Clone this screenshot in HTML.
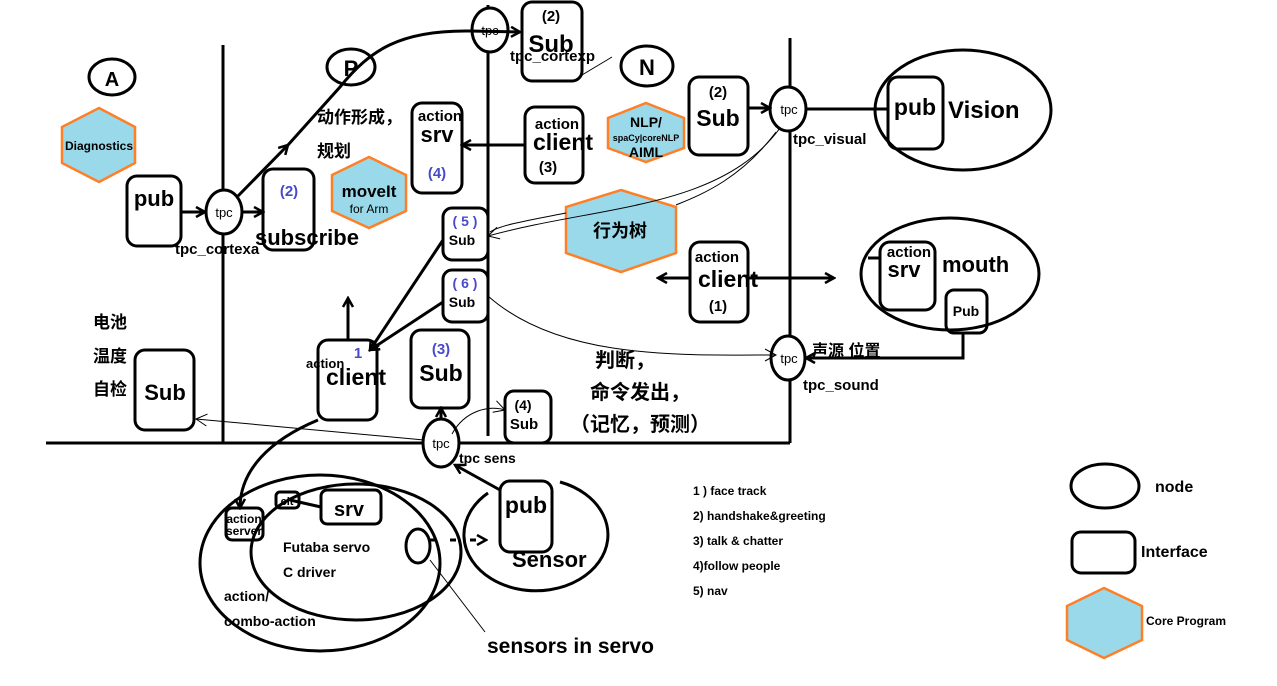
<!DOCTYPE html>
<html><head><meta charset="utf-8"><style>
html,body{margin:0;padding:0;background:#fff;}
svg{display:block}
text{font-family:"Liberation Sans","Noto Sans CJK SC",sans-serif;font-weight:bold;fill:#000}
.t{font-weight:normal}
.b{fill:#4a4acc}
</style></head><body>
<svg width="1277" height="686" viewBox="0 0 1277 686" xmlns="http://www.w3.org/2000/svg">
<defs>
<marker id="ah" markerWidth="12" markerHeight="12" refX="10" refY="6" orient="auto" markerUnits="userSpaceOnUse"><path d="M1,1 L10,6 L1,11" fill="none" stroke="#000" stroke-width="2.5"/></marker>
<marker id="at" markerWidth="14" markerHeight="14" refX="12" refY="7" orient="auto" markerUnits="userSpaceOnUse"><path d="M1,1 L12,7 L1,13" fill="none" stroke="#000" stroke-width="1"/></marker>
</defs>
<g fill="none" stroke="#000" stroke-width="3">
<!-- main lines -->
<line x1="46" y1="443" x2="790" y2="443"/>
<line x1="223" y1="45" x2="223" y2="443"/>
<line x1="488" y1="5" x2="488" y2="436"/>
<line x1="790" y1="38" x2="790" y2="443"/>
<!-- letter circles -->
<ellipse cx="112" cy="77" rx="23" ry="18"/>
<ellipse cx="351" cy="67" rx="24" ry="18"/>
<ellipse cx="647" cy="66" rx="26" ry="20"/>
<!-- boxes -->
<rect x="127" y="176" width="54" height="70" rx="10"/>
<rect x="263" y="169" width="51" height="81" rx="10"/>
<rect x="412" y="103" width="50" height="90" rx="10"/>
<rect x="525" y="107" width="58" height="76" rx="10"/>
<rect x="522" y="2" width="60" height="79" rx="10"/>
<rect x="689" y="77" width="59" height="78" rx="10"/>
<rect x="888" y="77" width="55" height="72" rx="10"/>
<rect x="443" y="208" width="45" height="52" rx="9"/>
<rect x="443" y="270" width="45" height="52" rx="9"/>
<rect x="690" y="242" width="58" height="80" rx="10"/>
<rect x="880" y="242" width="55" height="68" rx="10"/>
<rect x="946" y="290" width="41" height="43" rx="8"/>
<rect x="318" y="340" width="59" height="80" rx="10"/>
<rect x="411" y="330" width="58" height="78" rx="10"/>
<rect x="505" y="391" width="46" height="52" rx="9"/>
<rect x="135" y="350" width="59" height="80" rx="10"/>
<rect x="276" y="492" width="23" height="16" rx="4"/>
<rect x="321" y="490" width="60" height="34" rx="6"/>
<rect x="226" y="508" width="37" height="32" rx="6"/>
<rect x="500" y="481" width="52" height="71" rx="10"/>
<rect x="1072" y="532" width="63" height="41" rx="9"/>
<!-- ellipses -->
<ellipse cx="963" cy="110" rx="88" ry="60"/>
<ellipse cx="950" cy="274" rx="89" ry="56"/>
<ellipse cx="320" cy="563" rx="120" ry="88"/>
<ellipse cx="356" cy="552" rx="105" ry="68"/>
<ellipse cx="418" cy="546" rx="12" ry="17"/>
<path d="M488,493 A72,56 0 1,0 560,482" />
<ellipse cx="1105" cy="486" rx="34" ry="22"/>
<!-- tpc nodes -->
<ellipse cx="224" cy="212" rx="18" ry="22" fill="#fff"/>
<ellipse cx="490" cy="30" rx="18" ry="22" fill="#fff"/>
<ellipse cx="788" cy="109" rx="18" ry="22" fill="#fff"/>
<ellipse cx="788" cy="358" rx="17" ry="22" fill="#fff"/>
<ellipse cx="441" cy="443" rx="18" ry="24" fill="#fff"/>
</g>
<!-- hexagons -->
<g fill="#99d9ea" stroke="#ff7f27" stroke-width="2.5">
<polygon points="99,108 135,127 135,163 99,182 62,163 62,127"/>
<polygon points="369,157 406,175 406,211 369,228 332,211 332,175"/>
<polygon points="646,103 684,118 684,148 646,162 608,148 608,118"/>
<polygon points="621,190 676,207 676,253 621,272 566,253 566,207"/>
<polygon points="1104,588 1142,606 1142,640 1104,658 1067,640 1067,606"/>
</g>
<!-- thick connectors -->
<g fill="none" stroke="#000" stroke-width="3" marker-end="url(#ah)">
<line x1="181" y1="212" x2="205" y2="212"/>
<line x1="242" y1="212" x2="263" y2="212"/>
<line x1="238" y1="196" x2="288" y2="145"/>
<path d="M288,145 L340,87 C370,50 400,30 470,31 L520,32" marker-end="url(#ah)"/>
<line x1="525" y1="145" x2="462" y2="145"/>
<line x1="748" y1="108" x2="770" y2="108"/>
<line x1="690" y1="278" x2="658" y2="278"/>
<line x1="748" y1="278" x2="834" y2="278"/>
<line x1="348" y1="340" x2="348" y2="298"/>
<line x1="443" y1="302" x2="370" y2="350"/>
<line x1="443" y1="240" x2="370" y2="350"/>
<line x1="441" y1="419" x2="441" y2="408"/>
<path d="M963,333 L963,358 L806,358"/>
<line x1="500" y1="490" x2="455" y2="465"/>
<path d="M318,420 C270,440 240,470 240,508"/>
<line x1="290" y1="500" x2="321" y2="507" marker-end="none"/>
<path d="M430,540 L460,540 L486,540" stroke-dasharray="6,14"/>
</g>
<line x1="806" y1="109" x2="888" y2="109" stroke="#000" stroke-width="3"/>
<line x1="935" y1="258" x2="748" y2="258" stroke="#000" stroke-width="0"/>
<line x1="868" y1="258" x2="880" y2="258" stroke="#000" stroke-width="3"/>
<!-- thin connectors -->
<g fill="none" stroke="#000" stroke-width="1" marker-end="url(#at)">
<path d="M780,128 C720,210 600,205 488,236"/>
<path d="M776,132 C740,180 700,195 676,205" marker-end="none"/>
<path d="M566,213 C530,220 500,225 490,232" marker-end="none"/>
<path d="M488,296 C560,360 680,355 776,355"/>
<line x1="424" y1="440" x2="196" y2="419"/>
<path d="M452,434 C465,410 490,405 505,410"/>
<line x1="430" y1="560" x2="485" y2="632" marker-end="none"/>
<line x1="612" y1="57" x2="582" y2="75" marker-end="none"/>
</g>
<!-- texts -->
<text x="112" y="86" font-size="20" text-anchor="middle">A</text>
<text x="351" y="76" font-size="22" text-anchor="middle">P</text>
<text x="647" y="75" font-size="22" text-anchor="middle">N</text>
<text x="99" y="150" font-size="12" text-anchor="middle">Diagnostics</text>
<text x="154" y="206" font-size="22" text-anchor="middle">pub</text>
<text class="t" x="224" y="217" font-size="13" text-anchor="middle">tpc</text>
<text x="175" y="254" font-size="15">tpc_cortexa</text>
<text class="b" x="289" y="196" font-size="15" text-anchor="middle">(2)</text>
<text x="255" y="245" font-size="22">subscribe</text>
<text x="317" y="123" font-size="17">动作形成，</text>
<text x="317" y="157" font-size="17">规划</text>
<text x="369" y="197" font-size="17" text-anchor="middle">moveIt</text>
<text class="t" x="369" y="213" font-size="12" text-anchor="middle">for Arm</text>
<text x="440" y="121" font-size="15" text-anchor="middle">action</text>
<text x="437" y="142" font-size="22" text-anchor="middle">srv</text>
<text class="b" x="437" y="178" font-size="15" text-anchor="middle">(4)</text>
<text x="557" y="129" font-size="15" text-anchor="middle">action</text>
<text x="563" y="150" font-size="23" text-anchor="middle">client</text>
<text x="548" y="172" font-size="15" text-anchor="middle">(3)</text>
<text x="551" y="21" font-size="15" text-anchor="middle">(2)</text>
<text x="551" y="52" font-size="24" text-anchor="middle">Sub</text>
<text class="t" x="490" y="35" font-size="13" text-anchor="middle">tpc</text>
<text x="510" y="61" font-size="15">tpc_cortexp</text>
<text x="646" y="127" font-size="14" text-anchor="middle">NLP/</text>
<text x="646" y="141" font-size="9" text-anchor="middle">spaCy|coreNLP</text>
<text x="646" y="157" font-size="14" text-anchor="middle">AIML</text>
<text x="718" y="97" font-size="15" text-anchor="middle">(2)</text>
<text x="718" y="126" font-size="23" text-anchor="middle">Sub</text>
<text class="t" x="789" y="114" font-size="13" text-anchor="middle">tpc</text>
<text x="793" y="144" font-size="15">tpc_visual</text>
<text x="915" y="115" font-size="23" text-anchor="middle">pub</text>
<text x="948" y="118" font-size="24">Vision</text>
<text x="620" y="237" font-size="18" text-anchor="middle">行为树</text>
<text class="b" x="465" y="226" font-size="14" text-anchor="middle">( 5 )</text>
<text x="462" y="245" font-size="14" text-anchor="middle">Sub</text>
<text class="b" x="465" y="288" font-size="14" text-anchor="middle">( 6 )</text>
<text x="462" y="307" font-size="14" text-anchor="middle">Sub</text>
<text x="717" y="262" font-size="15" text-anchor="middle">action</text>
<text x="728" y="287" font-size="23" text-anchor="middle">client</text>
<text x="718" y="311" font-size="15" text-anchor="middle">(1)</text>
<text x="909" y="257" font-size="15" text-anchor="middle">action</text>
<text x="904" y="277" font-size="22" text-anchor="middle">srv</text>
<text x="942" y="272" font-size="22">mouth</text>
<text x="966" y="316" font-size="14" text-anchor="middle">Pub</text>
<text class="t" x="789" y="363" font-size="13" text-anchor="middle">tpc</text>
<text x="812" y="356" font-size="16">声源 位置</text>
<text x="803" y="390" font-size="15">tpc_sound</text>
<text x="625" y="367" font-size="20" text-anchor="middle">判断，</text>
<text x="640" y="399" font-size="20" text-anchor="middle">命令发出，</text>
<text x="640" y="431" font-size="20" text-anchor="middle">（记忆，预测）</text>
<text x="93" y="328" font-size="17">电池</text>
<text x="93" y="362" font-size="17">温度</text>
<text x="93" y="395" font-size="17">自检</text>
<text x="165" y="400" font-size="22" text-anchor="middle">Sub</text>
<text class="b" x="358" y="358" font-size="15" text-anchor="middle">1</text>
<text x="306" y="368" font-size="13">action</text>
<text x="356" y="385" font-size="23" text-anchor="middle">client</text>
<text class="b" x="441" y="354" font-size="15" text-anchor="middle">(3)</text>
<text x="441" y="381" font-size="23" text-anchor="middle">Sub</text>
<text x="523" y="410" font-size="14" text-anchor="middle">(4)</text>
<text x="524" y="429" font-size="15" text-anchor="middle">Sub</text>
<text class="t" x="441" y="448" font-size="13" text-anchor="middle">tpc</text>
<text x="459" y="463" font-size="14">tpc  sens</text>
<text x="287" y="505" font-size="11" text-anchor="middle">clt</text>
<text x="349" y="516" font-size="20" text-anchor="middle">srv</text>
<text x="244" y="523" font-size="12" text-anchor="middle">action</text>
<text x="244" y="535" font-size="12" text-anchor="middle">server</text>
<text x="283" y="552" font-size="14">Futaba servo</text>
<text x="283" y="577" font-size="14">C driver</text>
<text x="224" y="601" font-size="14">action/</text>
<text x="224" y="626" font-size="14">combo-action</text>
<text x="526" y="513" font-size="23" text-anchor="middle">pub</text>
<text x="512" y="567" font-size="22">Sensor</text>
<text x="487" y="653" font-size="21">sensors in servo</text>
<text x="693" y="495" font-size="12">1 ) face track</text>
<text x="693" y="520" font-size="12">2) handshake&amp;greeting</text>
<text x="693" y="545" font-size="12">3) talk &amp; chatter</text>
<text x="693" y="570" font-size="12">4)follow people</text>
<text x="693" y="595" font-size="12">5) nav</text>
<text x="1155" y="492" font-size="16">node</text>
<text x="1141" y="557" font-size="16">Interface</text>
<text x="1146" y="625" font-size="12">Core Program</text>
</svg>
</body></html>
